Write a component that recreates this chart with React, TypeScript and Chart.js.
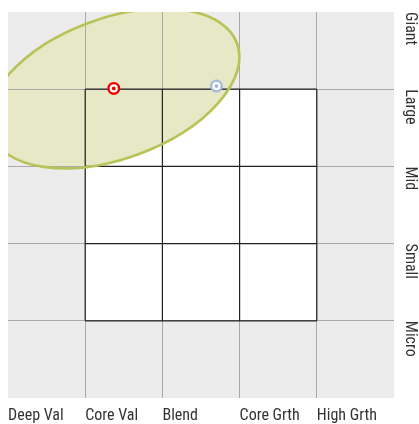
import React, { useEffect, useRef } from 'react';
import { Chart, registerables } from 'chart.js';

Chart.register(...registerables);

// ---- data ----
const styleLabels = ['Deep Val', 'Core Val', 'Blend', 'Core Grth', 'High Grth'];
const sizeLabels = ['Giant', 'Large', 'Mid', 'Small', 'Micro'];
const fundPoint = [1.37, 4.01];
const categoryPoint = [2.70, 4.04];
const zoneCenter = [1.37, 4.01];
const zoneRadii = [1.70, 0.91];
const zoneAngleDeg = 20;
const boxRange = [1, 4];
const axisRange = [0, 5];

const FONT = "'Roboto Condensed', 'Liberation Sans', sans-serif";

function zonePath(ctx: CanvasRenderingContext2D, x: any, y: any) {
  const cx = x.getPixelForValue(zoneCenter[0]);
  const cy = y.getPixelForValue(zoneCenter[1]);
  const sx = x.getPixelForValue(1) - x.getPixelForValue(0);
  const sy = y.getPixelForValue(0) - y.getPixelForValue(1);
  ctx.save();
  ctx.translate(cx, cy);
  ctx.scale(sx, -sy);
  ctx.rotate((zoneAngleDeg * Math.PI) / 180);
  ctx.beginPath();
  ctx.ellipse(0, 0, zoneRadii[0], zoneRadii[1], 0, 0, Math.PI * 2);
  ctx.restore();
}

const styleBoxPlugin = {
  id: 'styleBoxPlugin',
  beforeDraw(chart: any) {
    const { ctx, chartArea: ca, scales } = chart;
    const x = scales.x, y = scales.y;
    ctx.save();
    ctx.fillStyle = '#ececec';
    ctx.fillRect(ca.left, ca.top, ca.right - ca.left, ca.bottom - ca.top);
    const bx0 = x.getPixelForValue(boxRange[0]);
    const bx1 = x.getPixelForValue(boxRange[1]);
    const by0 = y.getPixelForValue(boxRange[1]);
    const by1 = y.getPixelForValue(boxRange[0]);
    ctx.fillStyle = '#ffffff';
    ctx.fillRect(bx0, by0, bx1 - bx0, by1 - by0);
    ctx.beginPath();
    ctx.rect(ca.left, ca.top, ca.right - ca.left, ca.bottom - ca.top);
    ctx.clip();
    zonePath(ctx, x, y);
    ctx.fillStyle = '#e6e8c6';
    ctx.fill();
    ctx.restore();
  },
  beforeDatasetsDraw(chart: any) {
    const { ctx, chartArea: ca, scales } = chart;
    const x = scales.x, y = scales.y;
    ctx.save();
    ctx.strokeStyle = '#222222';
    ctx.lineWidth = 1.2;
    ctx.beginPath();
    for (let v = boxRange[0]; v <= boxRange[1]; v++) {
      const px = x.getPixelForValue(v);
      ctx.moveTo(px, y.getPixelForValue(boxRange[1]));
      ctx.lineTo(px, y.getPixelForValue(boxRange[0]));
      const py = y.getPixelForValue(v);
      ctx.moveTo(x.getPixelForValue(boxRange[0]), py);
      ctx.lineTo(x.getPixelForValue(boxRange[1]), py);
    }
    ctx.stroke();
    ctx.beginPath();
    ctx.rect(ca.left, ca.top, ca.right - ca.left, ca.bottom - ca.top);
    ctx.clip();
    zonePath(ctx, x, y);
    ctx.strokeStyle = '#b7c357';
    ctx.lineWidth = 2.6;
    ctx.stroke();
    ctx.restore();
  },
  afterDraw(chart: any) {
    const { ctx, chartArea: ca, scales } = chart;
    const y = scales.y;
    ctx.save();
    ctx.fillStyle = '#333333';
    ctx.font = `16px ${FONT}`;
    ctx.textAlign = 'left';
    ctx.textBaseline = 'alphabetic';
    sizeLabels.forEach((lab, i) => {
      const py = y.getPixelForValue(axisRange[1] - i);
      ctx.save();
      ctx.translate(ca.right + 12, py);
      ctx.rotate(Math.PI / 2);
      ctx.fillText(lab, 0, 0);
      ctx.restore();
    });
    ctx.restore();
  },
};

const gridColor = (c: any) =>
  c.tick && (c.tick.value === axisRange[0] || c.tick.value === axisRange[1])
    ? 'rgba(0,0,0,0)'
    : '#a9a9a9';

export default function App() {
  const ref = useRef<HTMLCanvasElement>(null);
  useEffect(() => {
    document.body.style.margin = '0';
    const chart = new Chart(ref.current as HTMLCanvasElement, {
      type: 'scatter',
      data: {
        datasets: [
          {
            data: [{ x: fundPoint[0], y: fundPoint[1] }],
            pointRadius: 1.9,
            pointBackgroundColor: '#ee0000',
            pointBorderWidth: 0,
            pointHoverRadius: 1.9,
          },
          {
            data: [{ x: fundPoint[0], y: fundPoint[1] }],
            pointRadius: 5.3,
            pointBackgroundColor: '#ffffff',
            pointBorderColor: '#ee0000',
            pointBorderWidth: 2.4,
            pointHoverRadius: 5.3,
          },
          {
            data: [{ x: categoryPoint[0], y: categoryPoint[1] }],
            pointRadius: 1.9,
            pointBackgroundColor: '#a3b7d6',
            pointBorderWidth: 0,
            pointHoverRadius: 1.9,
          },
          {
            data: [{ x: categoryPoint[0], y: categoryPoint[1] }],
            pointRadius: 5.3,
            pointBackgroundColor: '#ffffff',
            pointBorderColor: '#a8bbd8',
            pointBorderWidth: 2.4,
            pointHoverRadius: 5.3,
          },
        ],
      },
      options: {
        animation: false,
        responsive: true,
        maintainAspectRatio: false,
        layout: { padding: { left: 8, top: 12, right: 0, bottom: 0 } },
        plugins: { legend: { display: false }, tooltip: { enabled: false } },
        events: [],
        scales: {
          x: {
            type: 'linear',
            min: axisRange[0],
            max: axisRange[1],
            border: { display: false },
            grid: { color: gridColor, lineWidth: 1, drawTicks: false },
            ticks: {
              stepSize: 1,
              autoSkip: false,
              maxRotation: 0,
              minRotation: 0,
              align: 'start',
              padding: 8,
              color: '#333333',
              font: { family: FONT, size: 16 },
              callback: (v: any) => styleLabels[v] ?? '',
            },
            afterFit: (s: any) => {
              s.height = 26;
            },
          },
          y: {
            type: 'linear',
            position: 'right',
            min: axisRange[0],
            max: axisRange[1],
            border: { display: false },
            grid: { color: gridColor, lineWidth: 1, drawTicks: false },
            ticks: { stepSize: 1, display: false },
            afterFit: (s: any) => {
              s.width = 25;
            },
          },
        },
      },
      plugins: [styleBoxPlugin],
    } as any);
    return () => chart.destroy();
  }, []);
  return (
    <div style={{ position: 'fixed', left: 0, top: 0, width: 419, height: 424 }}>
      <canvas ref={ref} />
    </div>
  );
}
